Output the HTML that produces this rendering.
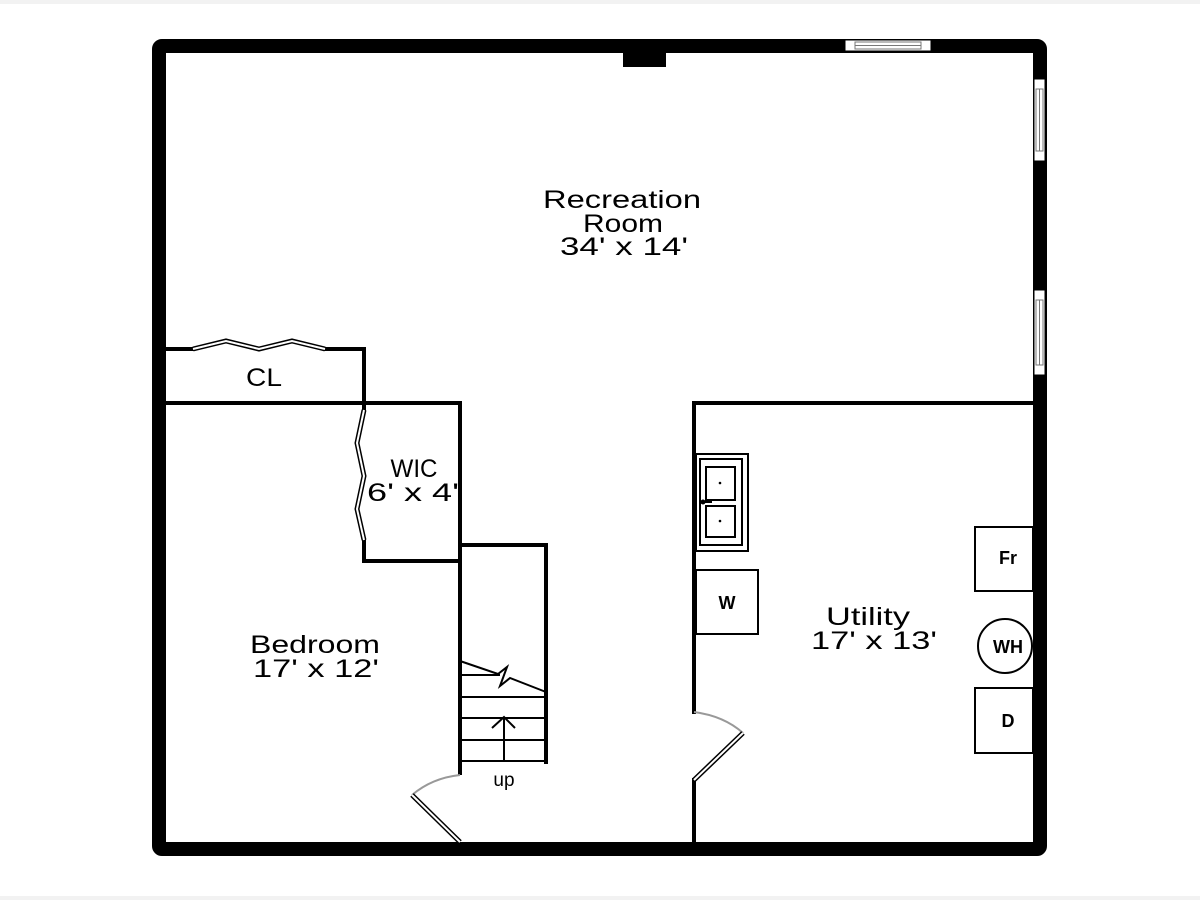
<!DOCTYPE html>
<html><head><style>html,body{margin:0;padding:0;background:#fff}svg{display:block}</style></head>
<body>
<svg width="1200" height="900" viewBox="0 0 1200 900" xmlns="http://www.w3.org/2000/svg" font-family="'Liberation Sans', 'DejaVu Sans', sans-serif">
<rect width="1200" height="900" fill="#fff"/>
<rect x="0" y="0" width="1200" height="4" fill="#f2f2f2"/>
<rect x="0" y="896" width="1200" height="4" fill="#f2f2f2"/>
<!-- outer wall -->
<rect x="159" y="46" width="881" height="803" fill="none" stroke="#000" stroke-width="14" rx="3"/>
<!-- fireplace -->
<rect x="623" y="52" width="43" height="15" fill="#000"/>
<!-- top window -->
<rect x="845" y="40" width="86" height="11" fill="#fff" stroke="#000" stroke-width="1"/>
<rect x="855" y="42" width="66" height="7" fill="#fff" stroke="#777" stroke-width="1"/>
<line x1="855" y1="45.5" x2="921" y2="45.5" stroke="#777" stroke-width="1"/>
<!-- right windows -->
<g fill="#fff" stroke="#000" stroke-width="1">
<rect x="1034" y="79" width="11" height="82"/>
<rect x="1034" y="290" width="11" height="85"/>
</g>
<g fill="none" stroke="#777" stroke-width="1">
<rect x="1036" y="89" width="7" height="62"/>
<rect x="1036" y="300" width="7" height="65"/>
<line x1="1039.5" y1="89" x2="1039.5" y2="151"/>
<line x1="1039.5" y1="300" x2="1039.5" y2="365"/>
</g>
<!-- interior walls -->
<g stroke="#000" stroke-width="4" fill="none" stroke-linecap="square">
<line x1="166" y1="349" x2="193" y2="349"/>
<line x1="325" y1="349" x2="364" y2="349"/>
<line x1="364" y1="349" x2="364" y2="410"/>
<line x1="166" y1="403" x2="460" y2="403"/>
<line x1="460" y1="403" x2="460" y2="773"/>
<line x1="364" y1="540" x2="364" y2="561"/>
<line x1="364" y1="561" x2="460" y2="561"/>
<line x1="460" y1="545" x2="546" y2="545"/>
<line x1="546" y1="545" x2="546" y2="762"/>
<line x1="694" y1="403" x2="1033" y2="403"/>
<line x1="694" y1="403" x2="694" y2="712"/>
<line x1="694" y1="780" x2="694" y2="841"/>
</g>
<!-- bifold doors -->
<g fill="none" stroke="#000" stroke-width="5">
<polyline points="193,349 226,341 259,349 292,341 325,349"/>
<polyline points="364,410 357,443 364,476 357,509 364,540"/>
</g>
<g fill="none" stroke="#fff" stroke-width="2">
<polyline points="193,349 226,341 259,349 292,341 325,349"/>
<polyline points="364,410 357,443 364,476 357,509 364,540"/>
</g>
<!-- stairs -->
<g stroke="#000" stroke-width="2" fill="none">
<line x1="460" y1="675" x2="500" y2="675"/>
<line x1="460" y1="697" x2="546" y2="697"/>
<line x1="460" y1="718" x2="546" y2="718"/>
<line x1="460" y1="740" x2="546" y2="740"/>
<line x1="460" y1="761" x2="546" y2="761"/>
<polyline points="460,661 498,674 507,667 500,686 510,678 546,692"/>
<line x1="504" y1="761" x2="504" y2="717"/>
<polyline points="492,728 504,717 515,728"/>
</g>
<text x="504" y="786" font-size="19" text-anchor="middle">up</text>
<!-- doors -->
<g fill="none" stroke="#999" stroke-width="2">
<path d="M460,775 Q432,778 412,795"/>
<path d="M694,712 Q724,716 743,733"/>
</g>
<g stroke="#000" stroke-width="5">
<line x1="412" y1="795" x2="460" y2="842"/>
<line x1="743" y1="733" x2="694" y2="780"/>
</g>
<g stroke="#fff" stroke-width="2">
<line x1="412" y1="795" x2="460" y2="842"/>
<line x1="743" y1="733" x2="694" y2="780"/>
</g>
<!-- sink -->
<g fill="none" stroke="#000" stroke-width="2">
<rect x="696" y="454" width="52" height="97"/>
<rect x="700" y="459" width="42" height="86"/>
<rect x="706" y="467" width="29" height="33"/>
<rect x="706" y="506" width="29" height="31"/>
<line x1="703" y1="502" x2="712" y2="502"/>
</g>
<circle cx="703" cy="502" r="2.5" fill="#000"/>
<circle cx="720" cy="483" r="1.3" fill="#000"/>
<circle cx="720" cy="521" r="1.3" fill="#000"/>
<!-- appliances -->
<g fill="#fff" stroke="#000" stroke-width="2">
<rect x="696" y="570" width="62" height="64"/>
<rect x="975" y="527" width="58" height="64"/>
<circle cx="1005" cy="646" r="27"/>
<rect x="975" y="688" width="58" height="65"/>
</g>
<rect x="1033" y="600" width="14" height="90" fill="#000"/>
<g font-size="18" text-anchor="middle" font-weight="bold">
<text x="727" y="609">W</text>
<text x="1008" y="564">Fr</text>
<text x="1008" y="653">WH</text>
<text x="1008" y="727">D</text>
</g>
<!-- labels -->
<g font-size="25" text-anchor="middle">
<text x="622" y="208" textLength="158" lengthAdjust="spacingAndGlyphs">Recreation</text>
<text x="623" y="232" textLength="80" lengthAdjust="spacingAndGlyphs">Room</text>
<text x="624" y="255" textLength="128" lengthAdjust="spacingAndGlyphs">34' x 14'</text>
<text x="264" y="386" textLength="36" lengthAdjust="spacingAndGlyphs">CL</text>
<text x="414" y="477" textLength="47" lengthAdjust="spacingAndGlyphs">WIC</text>
<text x="413" y="501" textLength="92" lengthAdjust="spacingAndGlyphs">6' x 4'</text>
<text x="315" y="653" textLength="130" lengthAdjust="spacingAndGlyphs">Bedroom</text>
<text x="316" y="677" textLength="126" lengthAdjust="spacingAndGlyphs">17' x 12'</text>
<text x="868" y="625" textLength="84" lengthAdjust="spacingAndGlyphs">Utility</text>
<text x="874" y="649" textLength="126" lengthAdjust="spacingAndGlyphs">17' x 13'</text>
</g>
</svg>
</body></html>
